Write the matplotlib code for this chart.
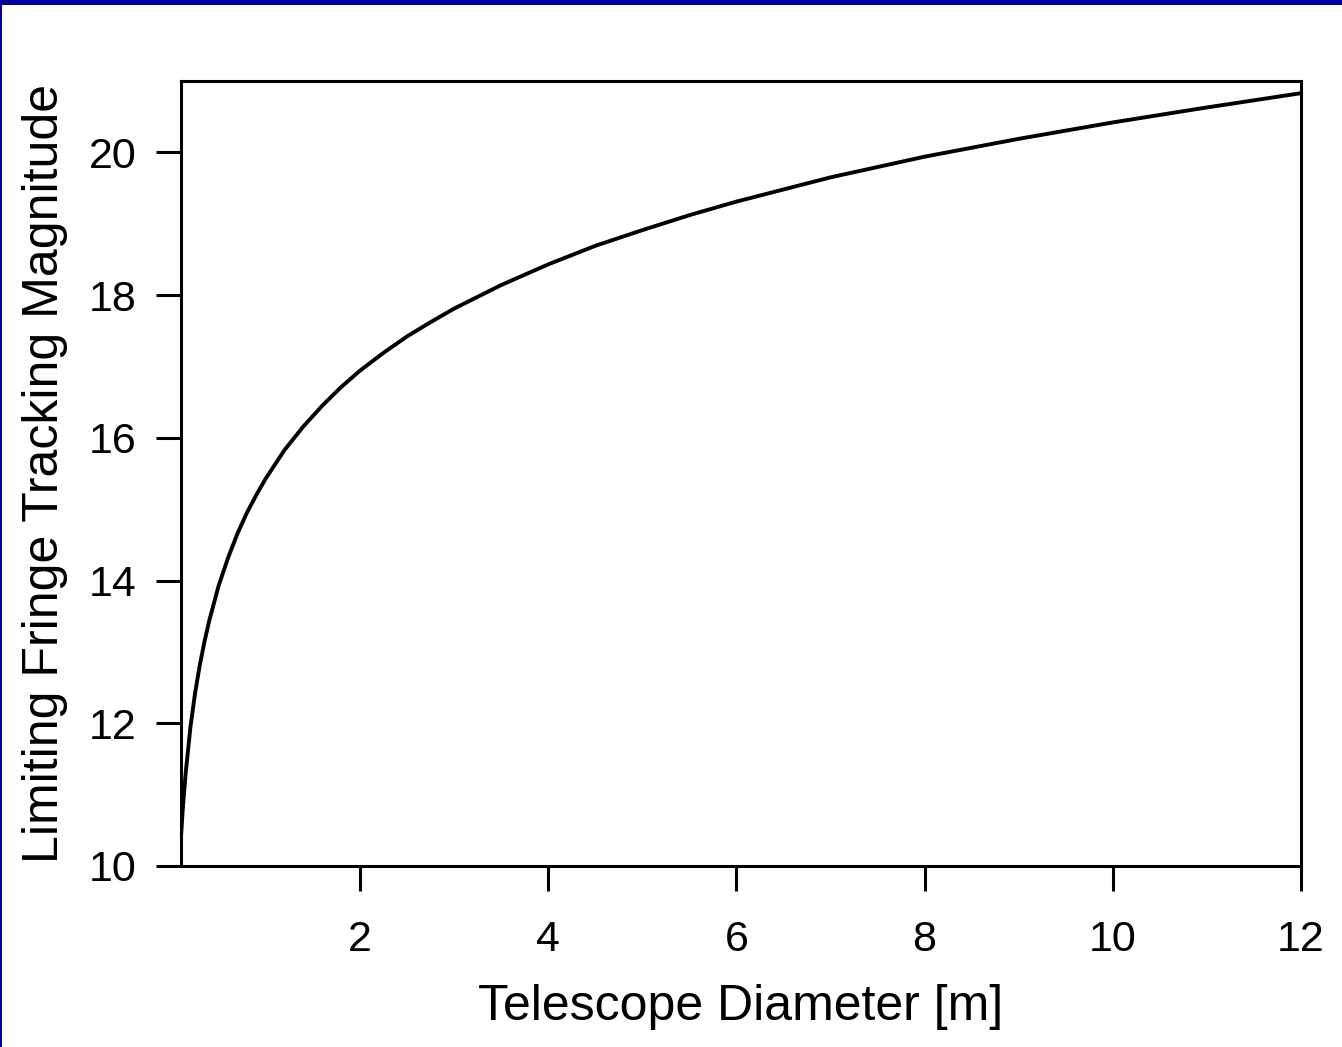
import matplotlib
matplotlib.use('Agg')
import matplotlib.pyplot as plt
from matplotlib.patches import Rectangle

plt.rcParams['font.family'] = ['Liberation Sans', 'DejaVu Sans']

# telescope diameter [m] and limiting fringe tracking magnitude
diameter = [0.10, 0.12, 0.15, 0.20, 0.25, 0.30, 0.35, 0.40, 0.50, 0.60,
            0.70, 0.80, 0.90, 1.00, 1.20, 1.40, 1.60, 1.80, 2.00, 2.25,
            2.50, 2.75, 3.00, 3.50, 4.00, 4.50, 5.00, 5.50, 6.00, 7.00,
            8.00, 9.00, 10.0, 11.0, 12.0]
magnitude = [10.42, 10.83, 11.31, 11.95, 12.43, 12.82, 13.15, 13.44, 13.93, 14.32,
             14.66, 14.95, 15.20, 15.43, 15.83, 16.16, 16.45, 16.71, 16.94, 17.19,
             17.42, 17.62, 17.81, 18.14, 18.43, 18.69, 18.91, 19.12, 19.31, 19.65,
             19.94, 20.19, 20.42, 20.63, 20.83]

xticks = [2, 4, 6, 8, 10, 12]
yticks = [10, 12, 14, 16, 18, 20]

fig = plt.figure(figsize=(13.42, 10.47), dpi=100)
ax = fig.add_axes([0.1349, 0.1729, 0.8346, 0.7497])

ax.plot(diameter, magnitude, color='black', lw=2.8, solid_capstyle='butt')

ax.set_xlim(0.1, 12)
ax.set_ylim(10, 21)
ax.set_xticks(xticks)
ax.set_yticks(yticks)

for s in ax.spines.values():
    s.set_linewidth(2.2)
ax.tick_params(direction='out', length=18, width=2.2, labelsize=31)
ax.tick_params(axis='x', pad=21)
ax.tick_params(axis='y', pad=14)

ax.set_xlabel('Telescope Diameter [m]', fontsize=36, labelpad=17)
ax.set_ylabel('Limiting Fringe Tracking Magnitude', fontsize=36, labelpad=15)

# blue frame along the top and left edges
fig.add_artist(Rectangle((0, 1 - 5 / 1047), 1, 5 / 1047, transform=fig.transFigure,
                         color='#0000a0', lw=0))
fig.add_artist(Rectangle((0, 0), 2 / 1342, 1, transform=fig.transFigure,
                         color='#0000a0', lw=0))

fig.savefig('out.png', dpi=100)
